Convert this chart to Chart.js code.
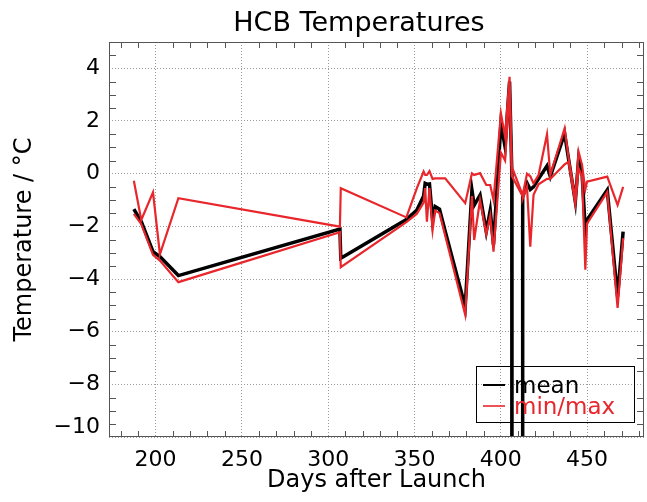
<!DOCTYPE html>
<html>
<head>
<meta charset="utf-8">
<script src="https://cdn.jsdelivr.net/npm/chart.js@4"></script>
<style>
  html, body { margin: 0; padding: 0; background: #fff; }
</style>
</head>
<body>
<canvas id="hcb" width="647" height="502"></canvas>
<script>
// days after launch, shared by all three series
const days = [
  187.4, 191.7, 198.5, 202.5, 213.2, 306.8, 307.3, 345.3, 351.4, 355.3,
  356.2, 357.2, 358.7, 360.5, 362.0, 364.5, 367.8, 379.4, 383.3, 384.6,
  388.0, 391.6, 393.9, 395.8, 400.1, 402.5, 405.1, 406.4, 406.5, 412.6,
  412.7, 415.2, 417.1, 419.0, 421.9, 426.8, 428.7, 437.0, 439.3, 443.2,
  445.1, 447.1, 449.0, 450.0, 461.7, 467.7, 470.9
];

// HCB temperature, degC (mean drops out of range around day 406-412)
const meanTemp = [
  -1.35, -1.82, -2.96, -3.15, -3.87, -2.10, -3.21, -1.74, -1.38, -0.85,
  -0.37, -0.40, -0.39, -1.76, -1.25, -1.35, -2.18, -5.05, -0.62, -1.20,
  -0.81, -2.20, -1.40, -2.70, 1.91, 1.02, 3.50, 0.10, -30, -30,
  -0.90, -0.35, -0.60, -0.50, -0.20, 0.30, -0.11, 1.53, 0.55, -1.06,
  0.55, 0.00, -2.14, -1.76, -0.62, -4.67, -2.20
];

const minTemp = [
  -1.53, -1.92, -3.08, -3.30, -4.12, -2.22, -3.55, -1.84, -1.52, -1.10,
  -0.55, -1.82, -0.55, -2.14, -1.40, -1.50, -2.35, -5.36, -0.85, -2.52,
  -1.00, -2.30, -1.60, -2.96, 0.80, 0.50, 3.20, -0.05, -0.10, -0.85,
  -0.95, -0.50, -2.77, -0.80, -0.40, -0.20, -0.20, 0.35, 0.45, -1.15,
  0.20, -0.10, -3.65, -1.90, -0.70, -5.10, -2.45
];

const maxTemp = [
  -0.27, -1.76, -0.71, -3.06, -0.93, -2.01, -0.55, -1.66, -0.55, 0.08,
  -0.05, -0.05, 0.10, -0.20, -0.18, -0.18, -0.18, -1.12, 0.01, -0.05,
  0.02, -0.43, -0.43, -1.00, 2.29, 1.40, 3.68, 0.30, 0.25, -0.80,
  -0.81, 0.00, -0.10, -0.37, -0.05, 1.50, -0.05, 1.72, 0.60, -0.95,
  0.83, 0.33, -0.60, -0.30, -0.11, -1.19, -0.50
];

const legendNames = ['mean', 'min/max'];

const FONT = 'DejaVu Sans';
const RED = '#e8262b';
const GRID = '#9a9a9a';

const mkPoints = ys => days.map((d, i) => ({ x: d, y: ys[i] }));

const fmtTemp = v => {
  const s = v < 0 ? '\u2212' + Math.abs(v) : String(v);
  // bottom label sits a bit higher, like the original
  return v === -10 ? [s, ''] : s;
};

// frame, minor ticks, title and legend
const decor = {
  id: 'decor',
  afterDraw(chart) {
    const { ctx, chartArea: a, scales: { x, y } } = chart;
    ctx.save();
    ctx.strokeStyle = '#555';
    ctx.lineWidth = 1;
    ctx.beginPath();
    for (let v = 180; v < x.max; v += 10) {
      if (v % 50 === 0) continue;
      const px = Math.round(x.getPixelForValue(v)) + 0.5;
      ctx.moveTo(px, a.bottom); ctx.lineTo(px, a.bottom - 6);
      ctx.moveTo(px, a.top); ctx.lineTo(px, a.top + 6);
    }
    for (let v = -9.5; v < y.max; v += 0.5) {
      if (v % 2 === 0) continue;
      const py = Math.round(y.getPixelForValue(v)) + 0.5;
      ctx.moveTo(a.left, py); ctx.lineTo(a.left + 7, py);
      ctx.moveTo(a.right, py); ctx.lineTo(a.right - 7, py);
    }
    ctx.stroke();
    ctx.strokeRect(a.left + 0.5, a.top + 0.5, a.right - a.left - 1, a.bottom - a.top - 1);

    ctx.fillStyle = '#000';
    ctx.font = '27px "' + FONT + '"';
    ctx.textAlign = 'center';
    ctx.textBaseline = 'alphabetic';
    ctx.fillText('HCB Temperatures', 359, 31);

    // legend box, bottom right of the plot
    const bx = a.right - 168, by = a.bottom - 71;
    ctx.strokeStyle = '#000';
    ctx.strokeRect(bx + 0.5, by + 0.5, 158, 56);
    ctx.textAlign = 'left';
    ctx.font = '23px "' + FONT + '"';
    const cols = ['#000', RED];
    legendNames.forEach((name, i) => {
      const ly = by + 19 + i * 21;
      ctx.strokeStyle = cols[i];
      ctx.lineWidth = i === 0 ? 2 : 1.6;
      ctx.beginPath();
      ctx.moveTo(bx + 7, ly); ctx.lineTo(bx + 29, ly);
      ctx.stroke();
      ctx.fillStyle = cols[i];
      ctx.fillText(name, bx + 38, ly + 8);
    });
    ctx.restore();
  }
};

new Chart(document.getElementById('hcb'), {
  type: 'line',
  data: {
    datasets: [
      { label: 'min', data: mkPoints(minTemp), borderColor: RED, borderWidth: 2.2, order: 0 },
      { label: 'max', data: mkPoints(maxTemp), borderColor: RED, borderWidth: 2.2, order: 0 },
      { label: 'mean', data: mkPoints(meanTemp), borderColor: '#000', borderWidth: 3.5, order: 1 }
    ]
  },
  options: {
    responsive: false,
    animation: false,
    events: [],
    parsing: false,
    layout: { padding: { top: 42, right: 3, bottom: 0, left: 0 } },
    elements: {
      point: { radius: 0 },
      line: { tension: 0, fill: false }
    },
    datasets: { line: { clip: 0 } },
    plugins: { legend: { display: false }, tooltip: { enabled: false } },
    scales: {
      x: {
        type: 'linear',
        min: 173,
        max: 483,
        afterFit: s => { s.height = 65; },
        grid: { color: GRID, lineWidth: 1, drawTicks: false },
        border: { display: false, dash: [1, 2] },
        ticks: {
          stepSize: 50,
          includeBounds: false,
          padding: 10,
          maxRotation: 0,
          color: '#000',
          font: { family: FONT, size: 22 }
        },
        title: {
          display: true,
          text: 'Days after Launch',
          color: '#000',
          font: { family: FONT, size: 24 },
          padding: { top: 0, bottom: 7 }
        }
      },
      y: {
        type: 'linear',
        min: -10,
        max: 5,
        afterFit: s => { s.width = 109; },
        grid: { color: GRID, lineWidth: 1, drawTicks: false },
        border: { display: false, dash: [1, 2] },
        ticks: {
          stepSize: 2,
          includeBounds: false,
          padding: 9,
          color: '#000',
          font: c => ({
            family: FONT,
            size: 22,
            lineHeight: c.tick && c.tick.value === -10 ? '20px' : 1.2
          }),
          callback: fmtTemp
        },
        title: {
          display: true,
          text: 'Temperature / °C',
          color: '#000',
          font: { family: FONT, size: 24 },
          padding: { top: 10, bottom: 0 }
        }
      }
    }
  },
  plugins: [decor]
});
</script>
</body>
</html>
